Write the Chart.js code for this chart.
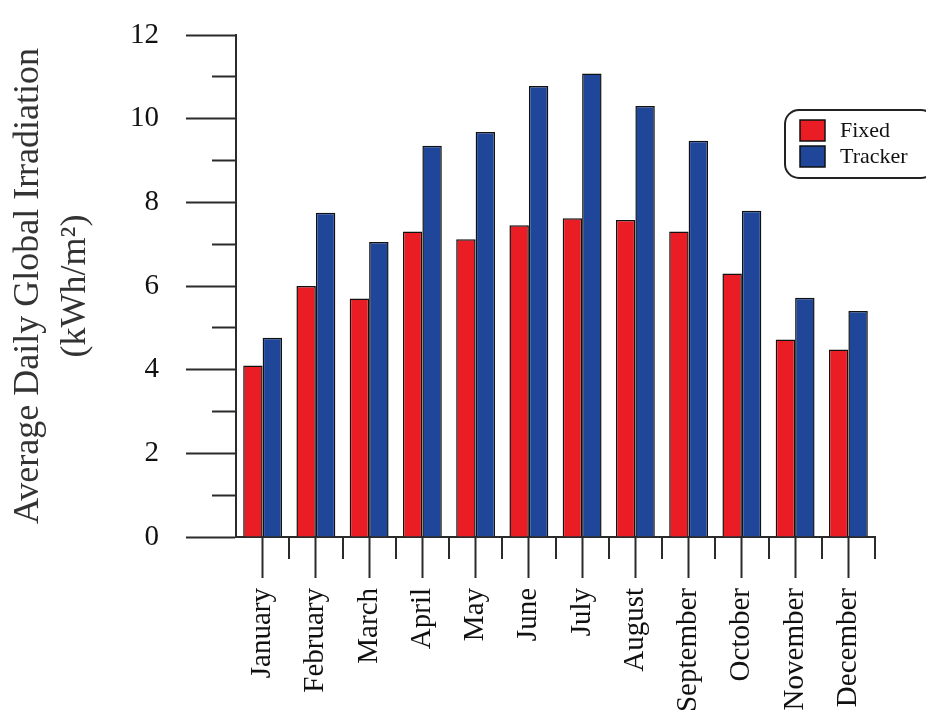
<!DOCTYPE html>
<html>
<head>
<meta charset="utf-8">
<script src="https://cdn.jsdelivr.net/npm/chart.js@4"></script>
<style>
  body { margin: 0; background: #fff; }
  #wrap { width: 926px; height: 711px; }
</style>
</head>
<body>
<div id="wrap"><canvas id="mycanvas"></canvas></div>
<script>
// data
var months = ['January', 'February', 'March', 'April', 'May', 'June', 'July',
  'August', 'September', 'October', 'November', 'December'];
var fixedValues = [4.1, 6.0, 5.7, 7.3, 7.12, 7.45, 7.62, 7.58, 7.3, 6.3, 4.72, 4.48];
var trackerValues = [4.76, 7.75, 7.05, 9.35, 9.68, 10.78, 11.08, 10.3, 9.47, 7.8, 5.72, 5.4];
var seriesNames = ['Fixed', 'Tracker'];
var yTitle = ['Average Daily Global Irradiation', '(kWh/m\u00B2)'];

var serif = 'Liberation Serif';
var ink = '#2b2b2b';

// short ticks between the months, under the x axis
var boundaryTicks = {
  id: 'boundaryTicks',
  afterDraw: function(chart) {
    var x = chart.scales.x, c = chart.ctx;
    c.save();
    c.strokeStyle = ink;
    c.lineWidth = 2;
    for (var i = 0; i < months.length; i++) {
      var px = Math.round(x.getPixelForValue(i + 0.5));
      c.beginPath();
      c.moveTo(px, chart.chartArea.bottom);
      c.lineTo(px, chart.chartArea.bottom + 22);
      c.stroke();
    }
    c.restore();
  }
};

// boxed legend inside the plot, rounded corners
var boxLegend = {
  id: 'boxLegend',
  afterDraw: function(chart) {
    var c = chart.ctx, a = chart.chartArea;
    var bx = a.right - 90, by = a.top + 75, bw = 150, bh = 68;
    c.save();
    c.beginPath();
    c.roundRect(bx, by, bw, bh, 14);
    c.fillStyle = '#fff';
    c.fill();
    c.strokeStyle = '#222';
    c.lineWidth = 2;
    c.stroke();
    c.font = '22px "' + serif + '"';
    c.textBaseline = 'middle';
    chart.data.datasets.forEach(function(ds, i) {
      var sy = by + 10 + i * 26;
      c.fillStyle = ds.backgroundColor;
      c.fillRect(bx + 15, sy, 25, 21);
      c.strokeStyle = '#111';
      c.lineWidth = 1.5;
      c.strokeRect(bx + 15, sy, 25, 21);
      c.fillStyle = '#111';
      c.fillText(ds.label, bx + 55, sy + 11);
    });
    c.restore();
  }
};

var chartdata = {
  labels: months,
  datasets: [
    {
      label: seriesNames[0],
      backgroundColor: '#ea1d25',
      borderColor: '#111',
      borderWidth: 1.5,
      data: fixedValues
    },
    {
      label: seriesNames[1],
      backgroundColor: '#1f4698',
      borderColor: '#111',
      borderWidth: 1.5,
      data: trackerValues
    }
  ]
};

var ctx = document.getElementById('mycanvas');

var barGraph = new Chart(ctx, {
  type: 'bar',
  data: chartdata,
  plugins: [boundaryTicks, boxLegend],
  options: {
    responsive: true,
    maintainAspectRatio: false,
    animation: false,
    layout: { padding: { left: 6, right: 51, top: 6, bottom: 0 } },
    datasets: { bar: { categoryPercentage: 0.73, barPercentage: 1.0 } },
    plugins: {
      legend: { display: false },
      tooltip: { enabled: false }
    },
    scales: {
      x: {
        afterFit: function(s) { s.height = 174; },
        grid: {
          drawOnChartArea: false,
          offset: false,
          tickLength: 41,
          tickColor: ink,
          tickWidth: 2
        },
        border: { color: ink, width: 2 },
        ticks: {
          autoSkip: false,
          maxRotation: 90,
          minRotation: 90,
          padding: 10,
          color: '#111',
          font: { family: serif, size: 29 }
        }
      },
      y: {
        min: 0,
        max: 12,
        afterFit: function(s) { s.width = 230; s.paddingTop = 35; },
        ticks: {
          stepSize: 1,
          padding: 27,
          color: '#111',
          font: { family: serif, size: 29 },
          callback: function(v) { return v % 2 === 0 ? v : ''; }
        },
        grid: {
          drawOnChartArea: false,
          tickLength: 50,
          tickColor: ink,
          tickWidth: 2,
          tickBorderDash: function(c) {
            return c.tick && c.tick.value % 2 !== 0 ? [0, 26, 30, 100] : [];
          }
        },
        border: { color: ink, width: 2 },
        title: {
          display: true,
          text: yTitle,
          color: '#333',
          padding: { top: 0, bottom: 3 },
          font: { family: serif, size: 36, lineHeight: 1.28 }
        }
      }
    }
  }
});
</script>
</body>
</html>
